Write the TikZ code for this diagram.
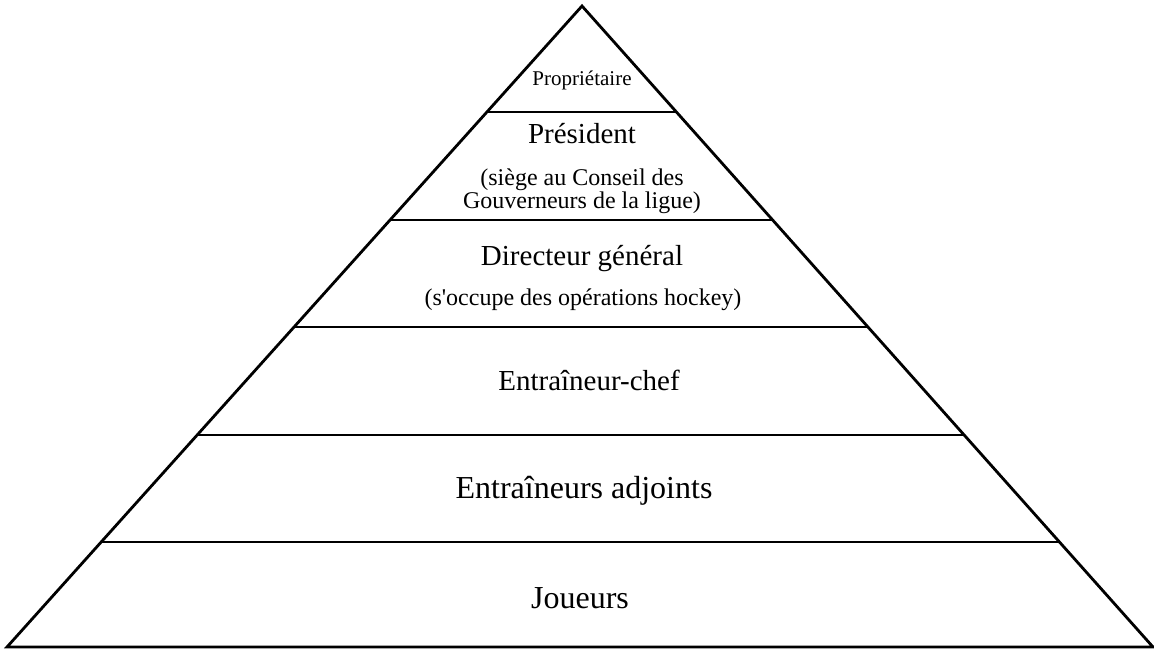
\documentclass[tikz,border=0pt]{standalone}
\usepackage{fontspec}
\setmainfont{Liberation Serif}
\newfontfamily\rawserif{Liberation Serif}[Ligatures=ResetAll]
\usetikzlibrary{calc}
\begin{document}
\begin{tikzpicture}[x=1pt,y=-1pt,
  edge/.style={line width=2.8pt,line join=miter},
  lbl/.style={anchor=base,inner sep=0pt,align=center},
  fa/.style={font=\fontsize{21}{24}\selectfont},
  fb/.style={font=\fontsize{24}{26}\selectfont},
  fc/.style={font=\fontsize{29}{32}\selectfont},
  fd/.style={font=\fontsize{32}{36}\selectfont}]
\useasboundingbox (0,0) rectangle (1154,649);
\coordinate (apex) at (582,6);
\coordinate (bl) at (7,647);
\coordinate (br) at (1153,647);
\draw[edge] (apex) -- (bl) -- (br) -- cycle;
\foreach \t [count=\i] in {0.1654,0.3339,0.5008,0.6693,0.8362}{
  \coordinate (l\i) at ($(apex)!\t!(bl)$);
  \coordinate (r\i) at ($(apex)!\t!(br)$);
  \draw[edge] (l\i) -- (r\i);
}
\node[lbl,fa] (prop) at (582,85) {Propriétaire};
\node[lbl,fc] (pres) at (582,143) {Président};
\node[lbl,fb] (pres1) at (582,185) {(siège au Conseil des};
\node[lbl,fb] (pres2) at (582,208) {Gouverneurs de la ligue)};
\node[lbl,fc] (dg) at (582,265) {Directeur général};
\node[lbl,fb] (dg1) at (583,305) {(s{\rawserif\char"0027}occupe des opérations hockey)};
\node[lbl,fc] (ec) at (589,390) {Entraîneur-chef};
\node[lbl,fd] (ea) at (584,498) {Entraîneurs adjoints};
\node[lbl,fd] (jo) at (580,608) {Joueurs};
\end{tikzpicture}
\end{document}
